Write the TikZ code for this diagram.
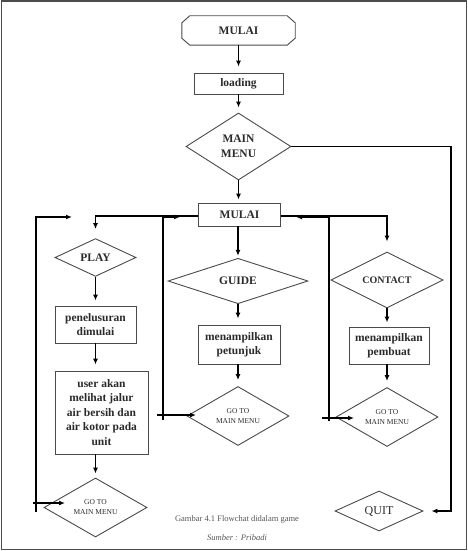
\documentclass[tikz,border=0pt]{standalone}
\usepackage{fontspec}
\setmainfont{Liberation Serif}
\usetikzlibrary{shapes.geometric,arrows.meta}
\definecolor{shapec}{HTML}{4A4A4A}
\definecolor{txt}{HTML}{2A2A2A}
\definecolor{capt}{HTML}{555555}
\begin{document}
\begin{tikzpicture}[x=1pt,y=-1pt,
  mainfont/.style={font=\fontsize{11.5}{14.5}\selectfont\bfseries},
  box/.style={draw=shapec, line width=0.9pt, rectangle, inner sep=0pt, align=center, mainfont, text=txt},
  dia/.style={draw=shapec, line width=0.9pt, diamond, inner sep=0pt, align=center, mainfont, text=txt},
  gotobox/.style={dia, font=\fontsize{7.5}{10}\selectfont},
  conn/.style={line width=1.6pt, draw=black},
  arr/.style={conn, -{Latex[length=6pt,width=5pt]}},
]
\useasboundingbox (0,0) rectangle (468,551);
\draw[line width=1.6pt, draw=gray!60!black] (1.5,1) rectangle (466.5,549.5);

% nodes
\node[mainfont, text=txt, minimum width=113pt, minimum height=29pt, inner sep=0pt] (start) at (238.5,30.5) {MULAI};
\draw[draw=shapec, line width=0.9pt]
  ([xshift=8pt]start.north west) -- ([xshift=-8pt]start.north east)
  -- ([yshift=-7pt]start.north east) -- ([yshift=7pt]start.south east)
  -- ([xshift=-8pt]start.south east) -- ([xshift=8pt]start.south west)
  -- ([yshift=7pt]start.south west) -- ([yshift=-7pt]start.north west) -- cycle;

\node[box, minimum width=89pt, minimum height=21pt] (load) at (238.5,83.5) {loading};
\node[dia, minimum width=105pt, minimum height=67pt] (mm) at (238.5,146.5) {MAIN\\MENU};
\node[box, minimum width=82pt, minimum height=23pt] (mulai) at (239.5,214.5) {MULAI};

\node[dia, minimum width=81pt, minimum height=31pt] (play) at (95.5,257.5) {PLAY};
\node[box, minimum width=81pt, minimum height=37pt] (pen) at (95.5,324.5) {penelusuran\\dimulai};
\node[box, minimum width=93pt, minimum height=83pt] (user) at (101.5,412.5) {user akan\\melihat jalur\\air bersih dan\\air kotor pada\\unit};
\node[gotobox, minimum width=103pt, minimum height=47pt] (g1) at (95.5,507.5) {GO TO\\MAIN MENU};

\node[dia, minimum width=140pt, minimum height=34pt] (guide) at (238,281) {GUIDE};
\node[box, minimum width=82pt, minimum height=39pt] (pet) at (239,344.5) {menampilkan\\petunjuk};
\node[gotobox, minimum width=102pt, minimum height=46pt] (g2) at (238,416) {GO TO\\MAIN MENU};

\node[dia, minimum width=112pt, minimum height=36pt, font=\fontsize{10}{12}\selectfont\bfseries] (contact) at (387,280) {CONTACT};
\node[box, minimum width=80pt, minimum height=37pt] (pemb) at (389,345.5) {menampilkan\\pembuat};
\node[gotobox, minimum width=102pt, minimum height=48pt] (g3) at (387,417) {GO TO\\MAIN MENU};

\node[dia, minimum width=88pt, minimum height=40pt, font=\fontsize{12}{14}\selectfont] (quit) at (379,511) {QUIT};

\node[font=\fontsize{8.5}{10}\selectfont, text=capt] (cap) at (237,519) {Gambar 4.1 Flowchat didalam game};
\node[font=\fontsize{8.5}{10}\selectfont\itshape, text=capt] (src) at (237,538) {Sumber : Pribadi};

% main connectors
\draw[arr, shorten >=6pt] (start.south) -- (load.north);
\draw[arr, shorten >=5pt] (load.south) -- (mm.north);
\draw[arr, shorten >=3pt] (mm.south) -- (mm.south |- mulai.north);
\coordinate (rx) at (451,512);
\draw[arr, shorten >=8pt] (mm.east) -| (rx |- quit.east) -- (quit.east);

\draw[arr, shorten >=9pt] ([yshift=-1.5pt]mulai.west) -| (play.north);
\draw[arr, shorten >=10pt] ([yshift=-1.5pt]mulai.east) -| (contact.north);
\draw[arr, shorten >=2pt] (guide.north |- mulai.south) -- (guide.north);

\draw[arr, shorten >=5pt] (play.south) -- (pen.north);
\draw[arr, shorten >=6pt] (pen.south) -- (pen.south |- user.north);
\draw[arr, shorten >=4pt] (g1.north |- user.south) -- (g1.north);

\draw[arr, shorten >=6pt] (guide.south) -- (guide.south |- pet.north);
\draw[arr, shorten >=6pt] (g2.north |- pet.south) -- (g2.north);

\draw[arr, shorten >=4pt] (contact.south) -- (contact.south |- pemb.north);
\draw[arr, shorten >=6pt] (g3.north |- pemb.south) -- (g3.north);

% return loops
\coordinate (a1) at (36,512); \coordinate (b1) at (72,217);
\draw[arr] (a1) |- (b1);
\coordinate (c1) at (33,503); \coordinate (d1) at (65,503);
\draw[arr] (c1) -- (d1);

\coordinate (a2) at (163,420); \coordinate (b2) at (180,217);
\draw[arr] (a2) |- (b2);
\coordinate (c2) at (157,415); \coordinate (d2) at (196,415);
\draw[arr] (c2) -- (d2);

\coordinate (a3) at (329,421); \coordinate (b3) at (296,217);
\draw[arr] (a3) |- (b3);
\coordinate (c3) at (322,418); \coordinate (d3) at (354,418);
\draw[arr] (c3) -- (d3);
\end{tikzpicture}
\end{document}
